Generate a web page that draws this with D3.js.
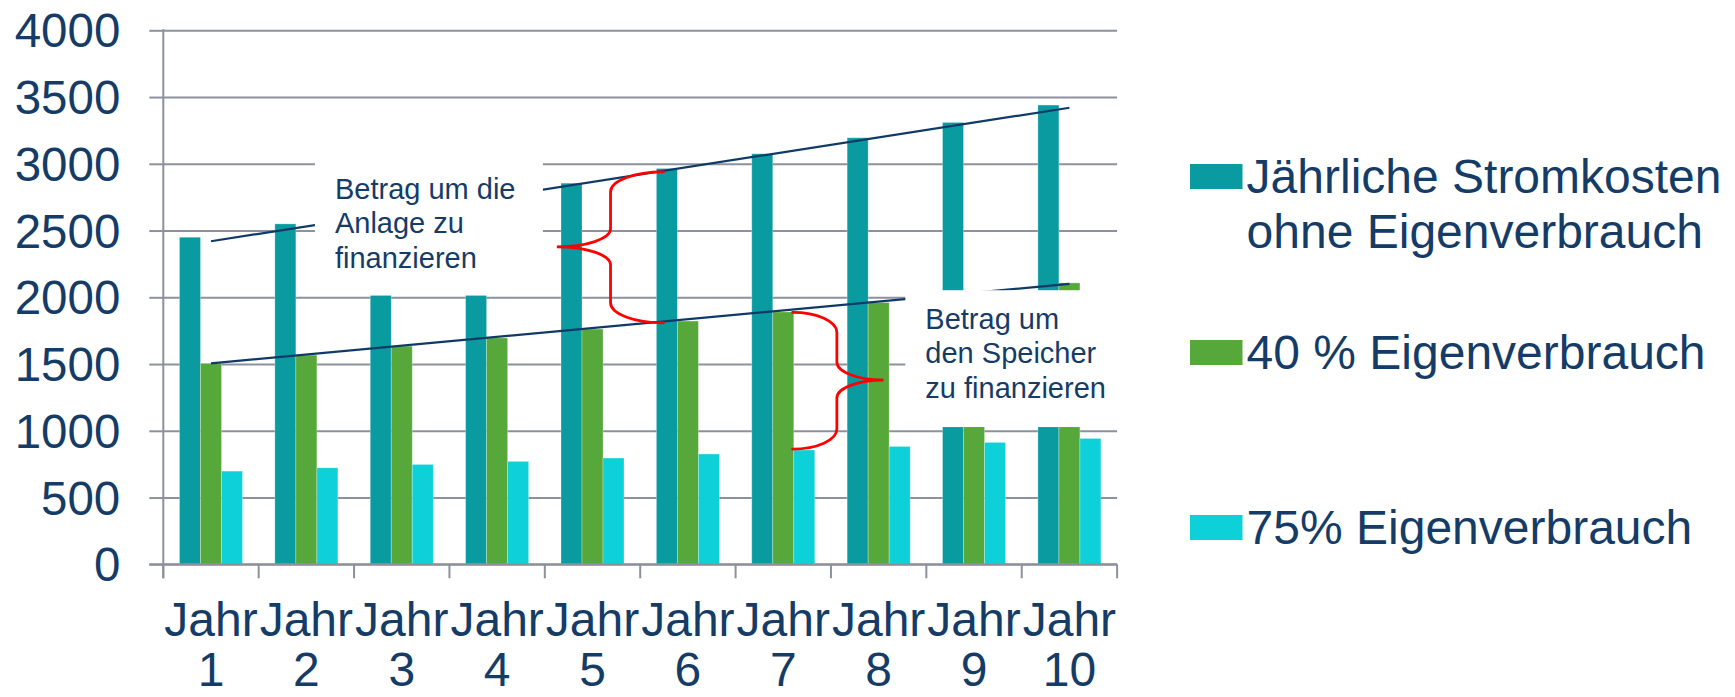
<!DOCTYPE html>
<html>
<head>
<meta charset="utf-8">
<script src="https://cdn.jsdelivr.net/npm/d3@7"></script>
<style>
  body { margin: 0; background: #ffffff; }
  svg { display: block; }
  text { font-family: "Liberation Sans", Arial, Helvetica, sans-serif; }
</style>
</head>
<body>
<svg id="chart" width="1735" height="697"></svg>
<script>
// ---- data ----------------------------------------------------------------
const categories = ["Jahr 1", "Jahr 2", "Jahr 3", "Jahr 4", "Jahr 5",
                    "Jahr 6", "Jahr 7", "Jahr 8", "Jahr 9", "Jahr 10"];

const seriesKeys = ["ohne", "e40", "e75"];
const seriesLabels = [
  ["Jährliche Stromkosten", "ohne Eigenverbrauch"],
  ["40 % Eigenverbrauch"],
  ["75% Eigenverbrauch"]
];

// annual electricity cost (EUR)
const stromkostenOhne = [2450, 2550, 2650, 2750, 2855, 2965, 3075, 3195, 3310, 3440];
const eigenverbrauch40 = [1505, 1567, 1634, 1696, 1762, 1822, 1890, 1961, 2035, 2108];
const eigenverbrauch75 = [698, 723, 748, 771, 796, 826, 856, 883, 913, 943];

const yTicks = [0, 500, 1000, 1500, 2000, 2500, 3000, 3500, 4000];

// annotations, in category units (0 = left edge of "Jahr 1") and in EUR
const trendLines = [
  { i0: 0.5, v0: 2420, i1: 9.5, v1: 3420 },
  { i0: 0.5, v0: 1505, i1: 9.5, v1: 2100 }
];
const noteBoxes = [
  { i0: 1.59, i1: 3.98, vTop: 3024, vBottom: 2013,
    lines: ["Betrag um die", "Anlage zu", "finanzieren"] },
  { i0: 7.78, i1: 10.16, vTop: 2053, vBottom: 1028,
    lines: ["Betrag um", "den Speicher", "zu finanzieren"] }
];
const braces = [
  { iEnd: 5.244, iSpine: 4.689, iTip: 4.126, vTop: 2939, vTip: 2378, vBottom: 1809 },
  { iEnd: 6.597, iSpine: 7.062, iTip: 7.551, vTop: 1887, vTip: 1380, vBottom: 863 }
];

// ---- layout & style --------------------------------------------------------
const colors = { ohne: "#0a9ba1", e40: "#56a83a", e75: "#0dd0d8" };
const textColor = "#153c67";
const gridColor = "#8c919d";
const navy = "#0f3a68";

const plot = { left: 163.3, right: 1117.1, top: 30.3, bottom: 564.3 };
const svg = d3.select("#chart");

const x = d3.scaleBand().domain(categories).range([plot.left, plot.right]).padding(0);
const xs = d3.scaleBand().domain(seriesKeys).range([0, x.bandwidth()])
  .paddingInner(0).paddingOuter(0.77);
const pos = d3.scaleLinear().domain([0, categories.length]).range([plot.left, plot.right]);
const y = d3.scaleLinear().domain([0, 4000]).range([plot.bottom, plot.top]);

const table = categories.map((c, i) => ({
  cat: c,
  ohne: stromkostenOhne[i],
  e40: eigenverbrauch40[i],
  e75: eigenverbrauch75[i]
}));

// horizontal gridlines
const grid = svg.append("g")
  .attr("transform", `translate(${plot.left},0)`)
  .call(d3.axisLeft(y).tickValues(yTicks).tickSize(-(plot.right - plot.left)).tickFormat(""));
grid.select(".domain").remove();
grid.selectAll("line").attr("stroke", gridColor).attr("stroke-width", 2);

// y axis: short ticks and labels
const yAxis = svg.append("g")
  .attr("transform", `translate(${plot.left},0)`)
  .call(d3.axisLeft(y).tickValues(yTicks).tickSize(14).tickPadding(29)
    .tickFormat(d3.format("d")));
yAxis.select(".domain").remove();
yAxis.selectAll("line").attr("stroke", gridColor).attr("stroke-width", 2);
yAxis.selectAll("text")
  .attr("fill", textColor)
  .attr("font-size", "47.5px")
  .attr("dy", "0.35em");

// bars
svg.append("g")
  .selectAll("g")
  .data(table)
  .join("g")
  .attr("transform", d => `translate(${x(d.cat)},0)`)
  .selectAll("rect")
  .data(d => seriesKeys.map(k => ({ key: k, value: d[k] })))
  .join("rect")
  .attr("x", d => xs(d.key))
  .attr("width", xs.bandwidth())
  .attr("y", d => y(d.value))
  .attr("height", d => y(0) - y(d.value))
  .attr("fill", d => colors[d.key])
  .attr("stroke", "rgba(255,255,255,0.35)")
  .attr("stroke-width", 0.8);

// vertical axis line
svg.append("line")
  .attr("x1", plot.left).attr("x2", plot.left)
  .attr("y1", plot.top - 1).attr("y2", plot.bottom + 14)
  .attr("stroke", gridColor).attr("stroke-width", 2);

// x axis baseline and category boundary ticks
svg.append("line")
  .attr("x1", plot.left - 14).attr("x2", plot.right)
  .attr("y1", y(0)).attr("y2", y(0))
  .attr("stroke", gridColor).attr("stroke-width", 2);
svg.append("g")
  .selectAll("line")
  .data(d3.range(categories.length + 1))
  .join("line")
  .attr("x1", i => pos(i)).attr("x2", i => pos(i))
  .attr("y1", y(0)).attr("y2", y(0) + 14)
  .attr("stroke", gridColor).attr("stroke-width", 2);

// category labels on two lines
const xLabels = svg.append("g")
  .selectAll("text")
  .data(categories)
  .join("text")
  .attr("text-anchor", "middle")
  .attr("fill", textColor)
  .attr("font-size", "48px");
xLabels.selectAll("tspan")
  .data(c => c.split(" ").map((t, j) => ({ t, j, cx: x(c) + x.bandwidth() / 2 })))
  .join("tspan")
  .attr("x", d => d.cx)
  .attr("y", d => d.j === 0 ? 636 : 685.5)
  .text(d => d.t);

// trend lines
svg.append("g")
  .selectAll("line")
  .data(trendLines)
  .join("line")
  .attr("x1", d => pos(d.i0)).attr("y1", d => y(d.v0))
  .attr("x2", d => pos(d.i1)).attr("y2", d => y(d.v1))
  .attr("stroke", navy).attr("stroke-width", 2.2);

// note boxes with white fill
const notes = svg.append("g").selectAll("g").data(noteBoxes).join("g");
notes.append("rect")
  .attr("x", d => pos(d.i0))
  .attr("y", d => y(d.vTop))
  .attr("width", d => pos(d.i1) - pos(d.i0))
  .attr("height", d => y(d.vBottom) - y(d.vTop))
  .attr("fill", "#ffffff");
notes.append("text")
  .attr("fill", textColor)
  .attr("font-size", "29px")
  .selectAll("tspan")
  .data(d => d.lines.map((t, j) => ({ t, j, bx: pos(d.i0), by: y(d.vTop) })))
  .join("tspan")
  .attr("x", d => d.bx + 20)
  .attr("y", d => d.by + 38.3 + d.j * 34.6)
  .text(d => d.t);

// curly braces
function bracePath(b) {
  const xe = pos(b.iEnd), xsp = pos(b.iSpine), xt = pos(b.iTip);
  const yt = y(b.vTop), ym = y(b.vTip), yb = y(b.vBottom);
  const k1 = 20, k2 = 18, c = 0.5523;
  const p = d3.path();
  p.moveTo(xe, yt);
  p.bezierCurveTo(xe - c * (xe - xsp), yt, xsp, yt + k1 - c * k1, xsp, yt + k1);
  p.lineTo(xsp, ym - k2);
  p.bezierCurveTo(xsp, ym - k2 + c * k2, xt + c * (xsp - xt), ym, xt, ym);
  p.bezierCurveTo(xt + c * (xsp - xt), ym, xsp, ym + k2 - c * k2, xsp, ym + k2);
  p.lineTo(xsp, yb - k1);
  p.bezierCurveTo(xsp, yb - k1 + c * k1, xe - c * (xe - xsp), yb, xe, yb);
  return p.toString();
}
svg.append("g")
  .selectAll("path")
  .data(braces)
  .join("path")
  .attr("d", bracePath)
  .attr("fill", "none")
  .attr("stroke", "#ff0000")
  .attr("stroke-width", 2.8)
  .attr("stroke-linecap", "round");

// legend
const legendTops = [164, 340, 515];
const legend = svg.append("g").selectAll("g")
  .data(seriesKeys)
  .join("g")
  .attr("transform", (k, i) => `translate(1190,${legendTops[i]})`);
legend.append("rect")
  .attr("width", 52.5).attr("height", 25)
  .attr("fill", k => colors[k]);
legend.append("text")
  .attr("fill", textColor)
  .attr("font-size", "48px")
  .selectAll("tspan")
  .data((k, i) => seriesLabels[i].map((t, j) => ({ t, j })))
  .join("tspan")
  .attr("x", 56.6)
  .attr("y", d => 28.5 + d.j * 55)
  .text(d => d.t);
</script>
</body>
</html>
